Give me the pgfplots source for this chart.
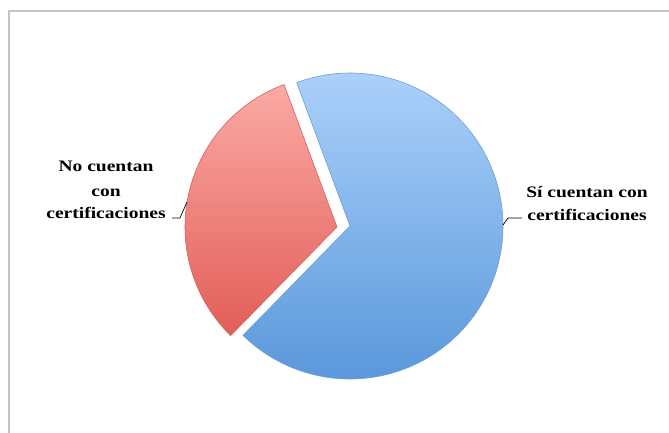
\documentclass[border=0pt]{standalone}
\usepackage{fontspec}
\setmainfont{Liberation Serif}
\newfontfamily\labfont[FakeStretch=1.22]{Liberation Serif}
\usepackage{pgfplots}
\pgfplotsset{compat=1.18}
\definecolor{blueTop}{HTML}{ABD0FA}
\definecolor{blueBot}{HTML}{5A98DB}
\definecolor{blueEdge}{HTML}{6E9FD6}
\definecolor{redTop}{HTML}{FBA9A4}
\definecolor{redBot}{HTML}{E35E58}
\definecolor{redEdge}{HTML}{CF6661}
\definecolor{frameGray}{HTML}{C4C4C4}
% values (percent)
\def\vNo{32}
\def\vSi{68}
\def\startAng{110.4}
\pgfmathsetmacro{\aA}{\startAng}
\pgfmathsetmacro{\aB}{\startAng+\vNo*3.6}
\pgfmathsetmacro{\aC}{\aB+\vSi*3.6}
\begin{document}
\begin{tikzpicture}[x=1pt,y=1pt]
\useasboundingbox (0,0) rectangle (669,432);
\clip (0,0) rectangle (669,432);
\fill[white] (0,0) rectangle (669,432);
\begin{axis}[at={(0,0)},anchor=south west,scale only axis,width=669pt,height=432pt,
  xmin=0,xmax=669,ymin=0,ymax=432,hide axis,clip=false]
% frame
\draw[frameGray,line width=2.6pt] (axis cs:9,-30) -- (axis cs:9,421) -- (axis cs:700,421);
% No cuentan (exploded)
\addplot[draw=redEdge,line width=0.6pt,top color=redTop,bottom color=redBot,
  domain=\aA:\aB,samples=80,variable=\t]
  ({337+152*cos(\t)},{205+152*sin(\t)}) -- (axis cs:337,205) -- cycle;
% Si cuentan
\addplot[draw=blueEdge,line width=0.6pt,top color=blueTop,bottom color=blueBot,
  domain=\aB:\aC,samples=160,variable=\t]
  ({350+153*cos(\t)},{206+153*sin(\t)}) -- (axis cs:350,206) -- cycle;
% leader lines
\addplot[black,line width=0.7pt] coordinates {(172,214) (180,214) (187,230)};
\addplot[black,line width=0.7pt] coordinates {(503,207) (508,214) (522,214)};
% labels
\node[font=\labfont\bfseries\fontsize{16}{20}\selectfont,anchor=base] at (axis cs:106,261) {No cuentan};
\node[font=\labfont\bfseries\fontsize{16}{20}\selectfont,anchor=base] at (axis cs:106,236) {con};
\node[font=\labfont\bfseries\fontsize{16}{20}\selectfont,anchor=base] at (axis cs:106,214) {certificaciones};
\node[font=\labfont\bfseries\fontsize{16}{20}\selectfont,anchor=base] at (axis cs:587,235) {Sí cuentan con};
\node[font=\labfont\bfseries\fontsize{16}{20}\selectfont,anchor=base] at (axis cs:587,212) {certificaciones};
\end{axis}
\end{tikzpicture}
\end{document}
